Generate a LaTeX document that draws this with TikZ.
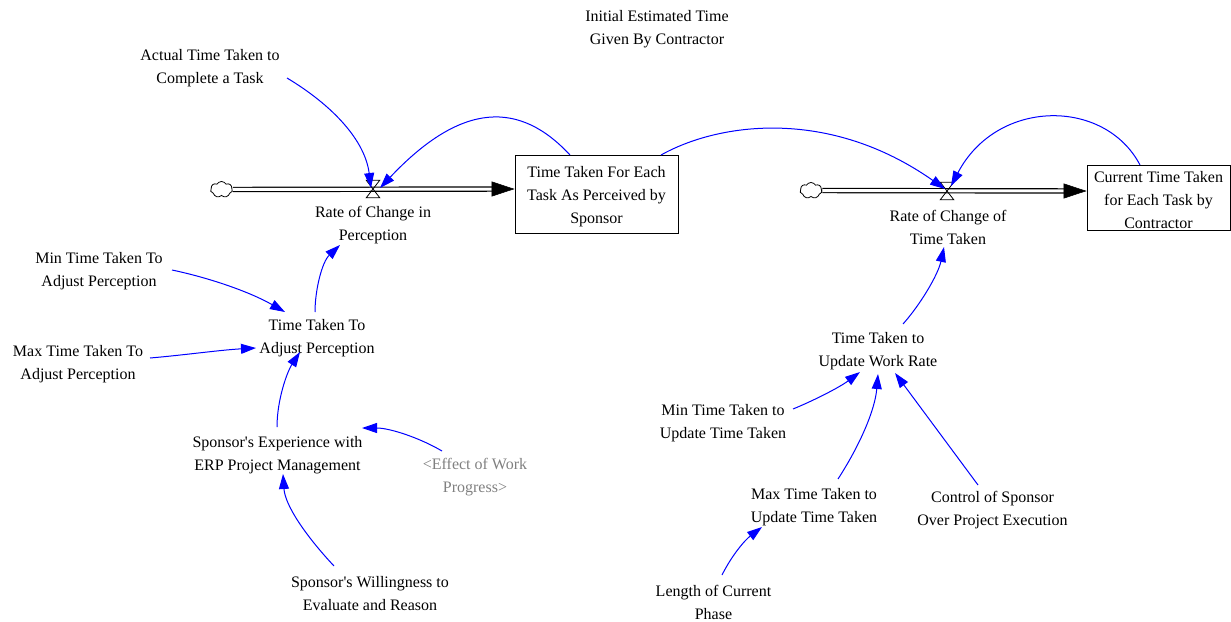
\documentclass[tikz,border=0pt]{standalone}
\usepackage{fontspec}
\setmainfont{Liberation Serif}
\usetikzlibrary{arrows.meta,shapes.symbols}
\definecolor{lnkblue}{RGB}{0,0,255}
\definecolor{shadow}{RGB}{128,128,128}
\begin{document}
\begin{tikzpicture}[x=1pt,y=-1pt,
  lbl/.style={align=center,font=\fontsize{16}{23}\selectfont,inner sep=2pt},
  stockbox/.style={draw,line width=0.9pt,align=center,font=\fontsize{16}{23}\selectfont,inner sep=0pt},
  valvebox/.style={minimum width=13pt,minimum height=17pt,inner sep=0pt},
  src/.style={cloud,draw,cloud puffs=7,cloud puff arc=120,aspect=1.3,minimum width=22pt,minimum height=16pt,inner sep=0pt,line width=0.8pt},
  pipe/.style={draw=black,line width=1.2pt,double=white,double distance=3pt},
  flowhead/.style={line width=0.5pt,-{Triangle[length=23pt,width=15pt]}},
  link/.style={draw=lnkblue,line width=1pt,-{Triangle[length=15pt,width=10pt]},lnkblue}]
\useasboundingbox (0,0) rectangle (1231,621);

% stocks
\node[stockbox,minimum width=163pt,minimum height=78pt] (stock1) at (596.5,194) {\rule{0pt}{17pt}Time Taken For Each\\Task As Perceived by\\Sponsor};
\node[stockbox,minimum width=143pt,minimum height=65pt] (stock2) at (1158.5,197.5) {\rule{0pt}{15.5pt}Current Time Taken\\for Each Task by\\Contractor};

% clouds and valves
\node[src] (c1) at (221.5,189.5) {};
\node[src] (c2) at (811,190.5) {};
\node[valvebox] (v1) at (373,189) {};
\node[valvebox] (v2) at (947,191) {};

% pipes
\coordinate (e1) at (stock1.west |- v1);
\coordinate (e2) at (stock2.west |- v2);
\draw[pipe,shorten >=22pt] (c1) -- (e1);
\draw[pipe,shorten >=22pt] (c2) -- (e2);
\draw[flowhead] ([xshift=-23pt]e1) -- (e1);
\draw[flowhead] ([xshift=-23pt]e2) -- (e2);
\draw[line width=0.8pt] (v1.north west) -- (v1.north east) -- (v1.south west) -- (v1.south east) -- cycle;
\draw[line width=0.8pt] (v2.north west) -- (v2.north east) -- (v2.south west) -- (v2.south east) -- cycle;

% labels
\node[lbl] (initial) at (657,29.5) {Initial Estimated Time\\Given By Contractor};
\node[lbl] (actual) at (210,68) {Actual Time Taken to\\Complete a Task};
\node[lbl] (rate1) at (373,225) {Rate of Change in\\Perception};
\node[lbl] (rate2) at (948,227) {Rate of Change of\\Time Taken};
\node[lbl] (minAdj) at (99,271.5) {Min Time Taken To\\Adjust Perception};
\node[lbl] (maxAdj) at (78,364) {Max Time Taken To\\Adjust Perception};
\node[lbl] (ttAdj) at (317,338.5) {Time Taken To\\Adjust Perception};
\node[lbl] (spExp) at (277.5,455.5) {Sponsor\textquotesingle s Experience with\\ERP Project Management};
\node[lbl,text=shadow] (effect) at (475,477) {<Effect of Work\\Progress>};
\node[lbl] (willing) at (370,593.5) {Sponsor\textquotesingle s Willingness to\\Evaluate and Reason};
\node[lbl] (ttUpd) at (878,351) {Time Taken to\\Update Work Rate};
\node[lbl] (minUpd) at (723,423) {Min Time Taken to\\Update Time Taken};
\node[lbl] (maxUpd) at (814,507) {Max Time Taken to\\Update Time Taken};
\node[lbl] (control) at (992.5,510) {Control of Sponsor\\Over Project Execution};
\node[lbl] (length) at (713.5,602.5) {Length of Current\\Phase};

% links
\draw[link] ([shift={(77,10)}]actual.center) .. controls (332,105) and (365,140) .. ([shift={(-2,-1)}]v1.center);
\draw[link] ([shift={(-26.5,-39)}]stock1.center) .. controls (520,101) and (462,101) .. ([shift={(7,-1)}]v1.center);
\draw[link] ([shift={(64.5,-39)}]stock1.center) .. controls (720,122) and (830,108) .. ([shift={(-2,-2)}]v2.center);
\draw[link] ([shift={(-18.5,-32.5)}]stock2.center) .. controls (1105,98) and (997,98) .. ([shift={(4,-5)}]v2.center);
\draw[link] ([shift={(-2,-26.5)}]ttAdj.center) .. controls (315,290) and (322,262) .. ([shift={(-33,20)}]rate1.center);
\draw[link] ([shift={(73,-1.5)}]minAdj.center) .. controls (210,278) and (250,292) .. ([shift={(-32,-26.5)}]ttAdj.center);
\draw[link] ([shift={(72,-6)}]maxAdj.center) .. controls (185,355) and (220,350) .. ([shift={(-61,9.5)}]ttAdj.center);
\draw[link] ([shift={(-0.5,-28.5)}]spExp.center) .. controls (277,400) and (287,372) .. ([shift={(-17,13.5)}]ttAdj.center);
\draw[link] ([shift={(-33,-26)}]effect.center) .. controls (420,438) and (390,428) .. ([shift={(84.5,-27.5)}]spExp.center);
\draw[link] ([shift={(-36,-27.5)}]willing.center) .. controls (305,535) and (285,505) .. ([shift={(5.5,18.5)}]spExp.center);
\draw[link] ([shift={(25,-27)}]ttUpd.center) .. controls (920,305) and (938,275) .. ([shift={(-4,20)}]rate2.center);
\draw[link] ([shift={(70,-14)}]minUpd.center) .. controls (815,400) and (840,387) .. ([shift={(-18,21)}]ttUpd.center);
\draw[link] ([shift={(24,-28)}]maxUpd.center) .. controls (860,445) and (875,410) .. ([shift={(0,23)}]ttUpd.center);
\draw[link] ([shift={(-14.5,-25)}]control.center) -- ([shift={(17,22)}]ttUpd.center);
\draw[link] ([shift={(8.5,-27.5)}]length.center) .. controls (732,555) and (745,540) .. ([shift={(-52,20)}]maxUpd.center);
\end{tikzpicture}
\end{document}
